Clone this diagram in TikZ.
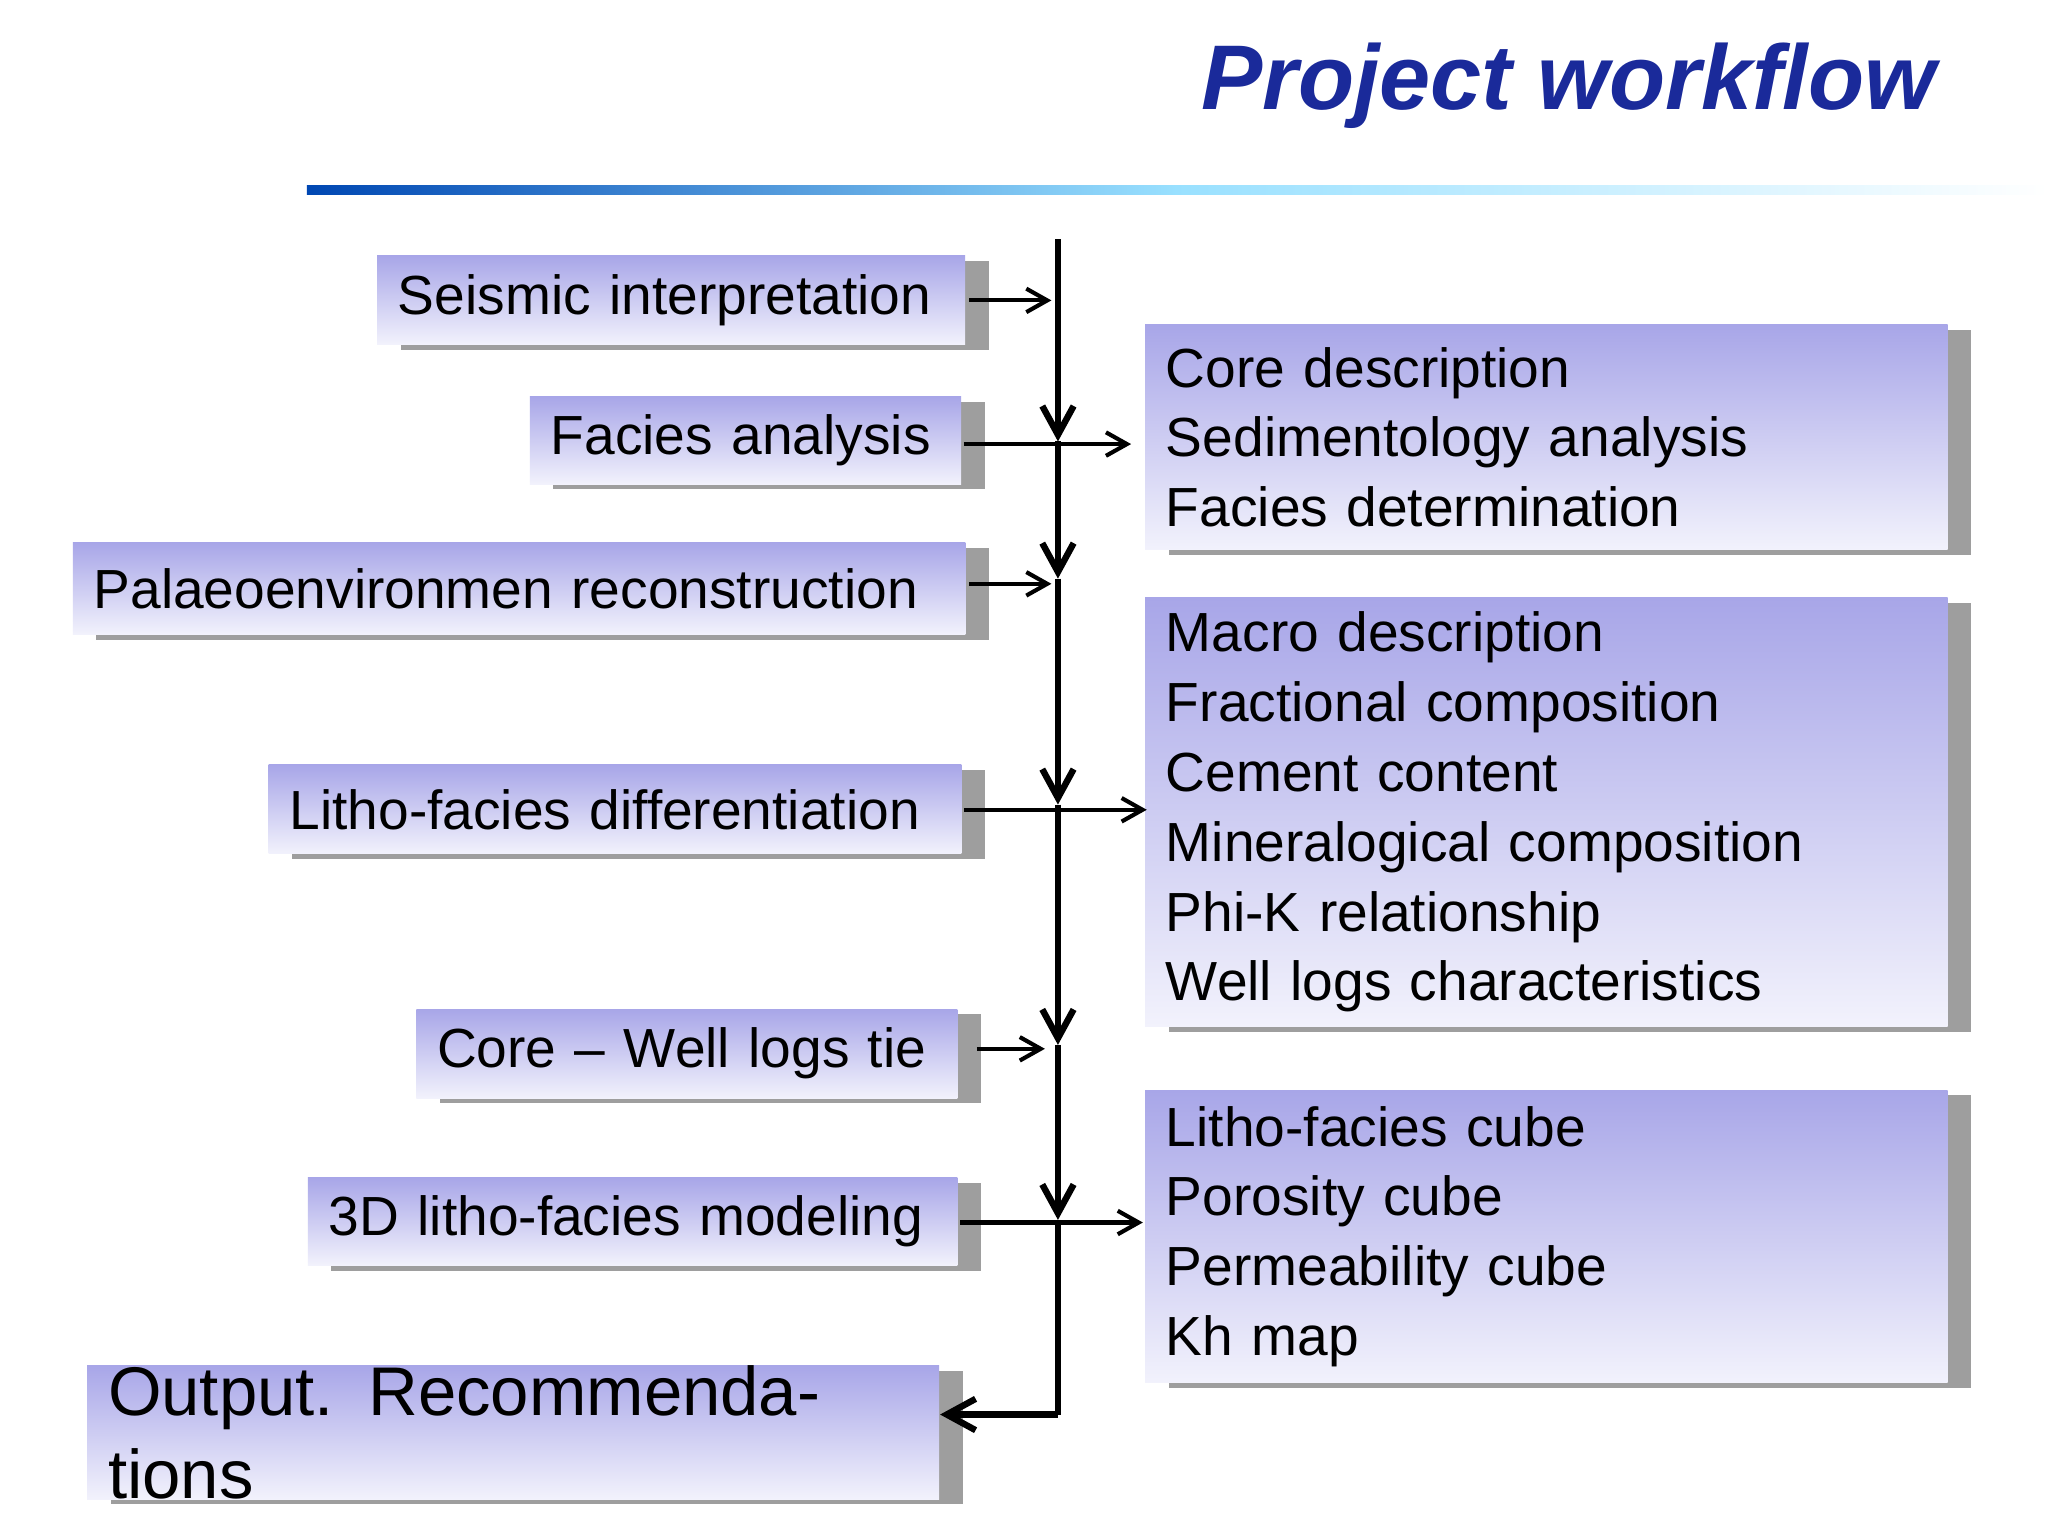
\documentclass[tikz,border=0pt]{standalone}
\usepackage{fontspec}
\setmainfont{Liberation Sans}
\usetikzlibrary{shadows,arrows.meta}
\definecolor{topc}{HTML}{A8A6E8}
\definecolor{botc}{HTML}{F2F2FC}
\definecolor{titc}{HTML}{1A2A9A}
\tikzset{
 box/.style={anchor=north west, top color=topc, bottom color=botc, draw=none,
   general shadow={fill=black!38, shadow xshift=0.18cm, shadow yshift=-0.04cm},
   align=left, inner xsep=0.16cm, inner ysep=0pt, font=\fontsize{12}{15.2}\selectfont},
 arr/.style={-{Straight Barb[length=1.6mm,width=1.8mm]}, line width=0.9pt},
 darr/.style={-{Straight Barb[length=2.2mm,width=2.4mm]}, line width=1.4pt}
}
\begin{document}
\begin{tikzpicture}[x=0.01cm,y=-0.01cm]
\useasboundingbox (0,0) rectangle (1568,1176);
\fill[white] (0,0) rectangle (1568,1176);
\node[anchor=south east, text=titc, font=\fontsize{20}{24}\bfseries\itshape\selectfont, inner sep=0] (title) at (1483,99) {Project workflow};
\shade[left color=blue!60!cyan!70!black, right color=white, middle color=blue!30!cyan!40] (235,142) rectangle (1568,149);
% left boxes
\node[box, text width=4.18cm, minimum height=0.68cm] (s) at (288,195) {Seismic interpretation};
\node[box, text width=2.98cm, minimum height=0.67cm] (f) at (405,303) {Facies analysis};
\node[box, text width=6.51cm, minimum height=0.70cm] (p) at (55,415) {Palaeoenvironmen reconstruction};
\node[box, text width=4.98cm, minimum height=0.68cm] (l) at (205,585) {Litho-facies differentiation};
\node[box, text width=3.82cm, minimum height=0.68cm] (c) at (318,772) {Core -- Well logs tie};
\node[box, text width=4.65cm, minimum height=0.67cm] (m) at (235,901) {3D litho-facies modeling};
\node[box, text width=6.2cm, minimum height=0.77cm, font=\fontsize{15}{18}\selectfont] (o) at (66,1045) {Output. Recommendations};
% right boxes
\node[box, text width=5.82cm, minimum height=1.72cm] (r1) at (876,248) {Core description\\Sedimentology analysis\\Facies determination};
\node[box, text width=5.82cm, minimum height=3.28cm] (r2) at (876,457) {Macro description\\Fractional composition\\Cement content\\Mineralogical composition\\Phi-K relationship\\Well logs characteristics};
\node[box, text width=5.82cm, minimum height=2.24cm] (r3) at (876,834) {Litho-facies cube\\Porosity cube\\Permeability cube\\Kh map};
% spine
\coordinate (t0) at (810,183);
\coordinate (t1) at (810,338);
\coordinate (t2) at (810,443);
\coordinate (t3) at (810,616);
\coordinate (t4) at (810,800);
\coordinate (t5) at (810,934);
\coordinate (t6) at (810,1083);
\draw[darr] (t0) -- (t1);
\draw[darr] (t1) -- (t2);
\draw[darr] (t2) -- (t3);
\draw[darr] (t3) -- (t4);
\draw[darr] (t4) -- (t5);
\draw[line width=1.4pt] (t5) -- (t6);
\draw[darr] (t6) -- (o.east |- t6);
% side arrows
\draw[arr] (742,230) -- (805,230);
\draw[arr] (738,340) -- (866,340);
\draw[arr] (742,447) -- (805,447);
\draw[arr] (738,620) -- (878,620);
\draw[arr] (748,803) -- (800,803);
\draw[arr] (735,936) -- (875,936);
\end{tikzpicture}
\end{document}
